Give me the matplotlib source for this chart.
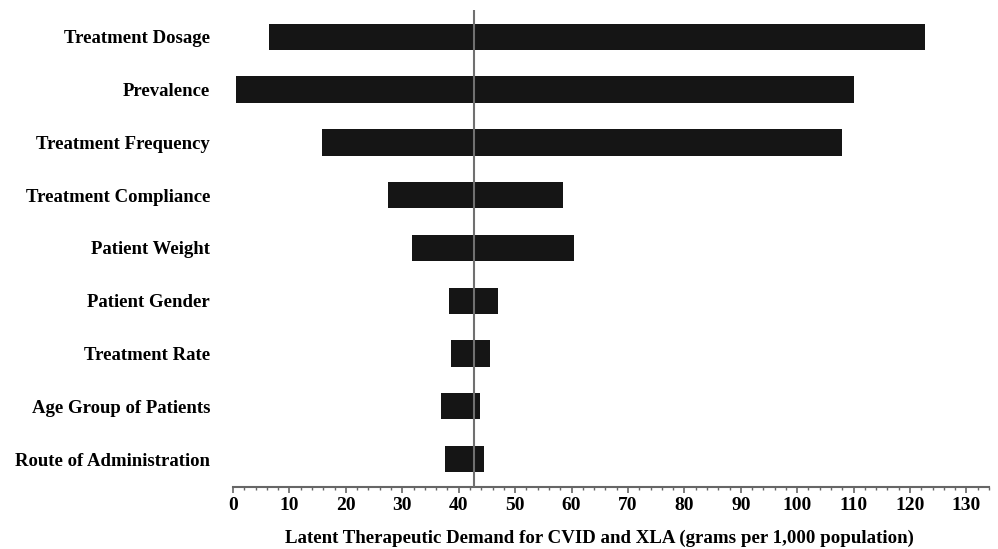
import matplotlib.pyplot as plt
import numpy as np
from matplotlib.ticker import MultipleLocator

# Tornado chart data
factors = [
    "Treatment Dosage",
    "Prevalence",
    "Treatment Frequency",
    "Treatment Compliance",
    "Patient Weight",
    "Patient Gender",
    "Treatment Rate",
    "Age Group of Patients",
    "Route of Administration",
]
low_values = [6.4, 0.6, 15.7, 27.5, 31.8, 38.2, 38.7, 36.8, 37.6]
high_values = [122.6, 110.1, 108.0, 58.4, 60.5, 47.0, 45.6, 43.8, 44.5]
base_value = 42.8

plt.rcParams["font.family"] = ["Liberation Serif", "DejaVu Serif"]
plt.rcParams["font.weight"] = "bold"

fig = plt.figure(figsize=(9.98, 5.49), dpi=100)
ax = fig.add_axes([0.2335, 0.1129, 0.7575, 0.8689])

y = np.arange(len(factors))
widths = np.array(high_values) - np.array(low_values)
ax.barh(y, widths, left=low_values, height=0.5, color="#151515")

ax.axvline(base_value, color="#707070", linewidth=1.5, zorder=3)

ax.set_xlim(0, 134)
ax.set_ylim(len(factors) - 1 + 0.53, -0.51)
ax.set_yticks(y)
ax.set_yticklabels(factors, fontsize=13.5, fontweight="bold")
ax.tick_params(axis="y", length=0, pad=16.5)

ax.xaxis.set_major_locator(MultipleLocator(10))
ax.xaxis.set_minor_locator(MultipleLocator(2))
ax.tick_params(axis="x", which="major", length=4, width=1.2, color="#666666",
               labelsize=14, pad=3)
ax.tick_params(axis="x", which="minor", length=2, width=1, color="#666666")
for lbl in ax.get_xticklabels():
    lbl.set_fontweight("bold")

for side in ["top", "right", "left"]:
    ax.spines[side].set_visible(False)
ax.spines["bottom"].set_color("#666666")
ax.spines["bottom"].set_linewidth(1.5)

fig.text(599 / 998, 1 - 538 / 549,
         "Latent Therapeutic Demand for CVID and XLA (grams per 1,000 population)",
         fontsize=13.6, fontweight="bold", ha="center", va="center")

fig.savefig("out.png", dpi=100)
